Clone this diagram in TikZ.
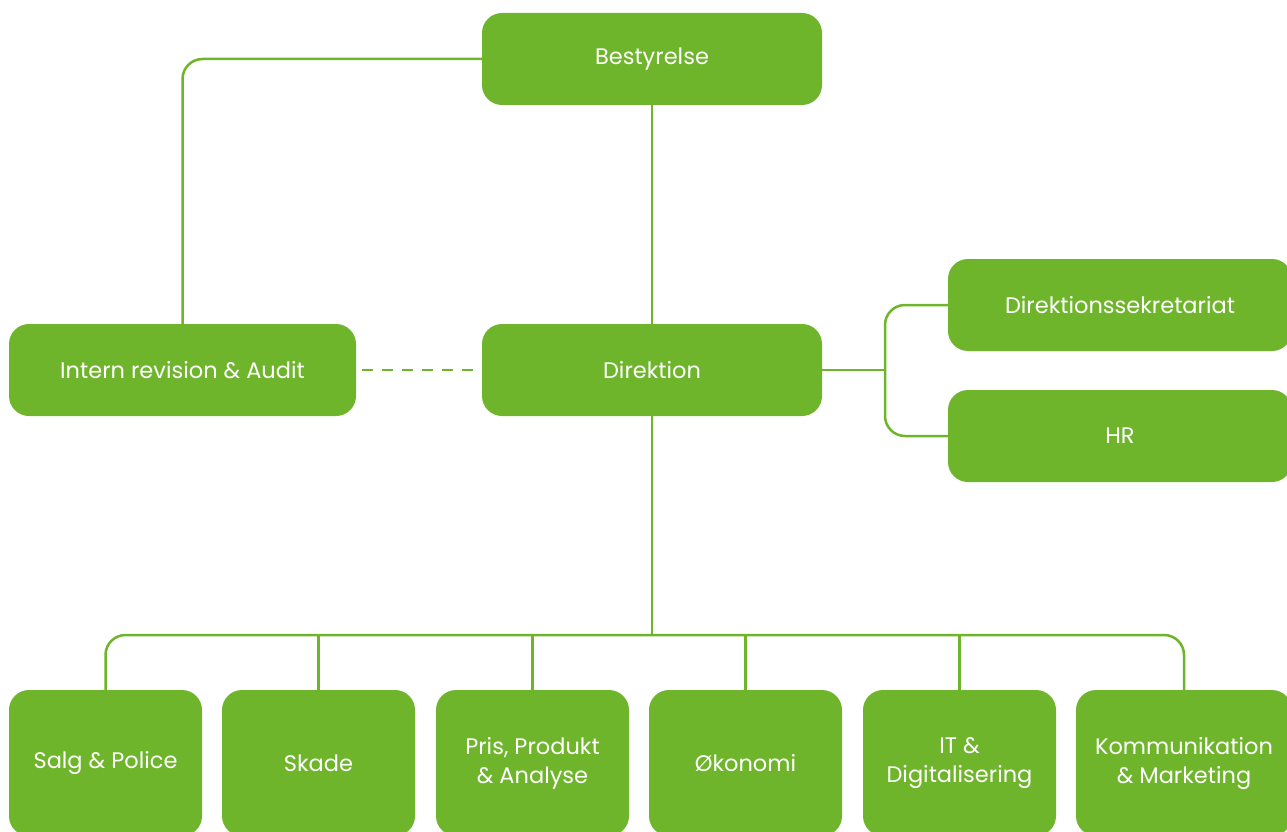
\documentclass[tikz,border=0pt]{standalone}
\usepackage{fontspec}
\setmainfont{Poppins}
\definecolor{grn}{RGB}{111,181,44}
\begin{document}
\begin{tikzpicture}[x=1pt,y=-1pt,
 box/.style={fill=grn, rounded corners=20pt, text=white, font=\fontsize{22.5}{29}\selectfont, align=center, inner sep=0pt},
 topbox/.style={box, minimum width=340pt, minimum height=92pt},
 botbox/.style={box, minimum width=193pt, minimum height=146pt},
 conn/.style={draw=grn, line width=2.5pt, rounded corners=20pt}]
\useasboundingbox (0,0) rectangle (1287,832);
\clip (0,0) rectangle (1287,832);
\node[topbox] (best) at (652,59) {Bestyrelse};
\node[topbox, minimum width=347pt] (intern) at (182.5,370) {Intern revision \& Audit};
\node[topbox] (dir) at (652,370) {Direktion};
\node[topbox, minimum width=344pt] (sek) at (1120,305) {Direktionssekretariat};
\node[topbox, minimum width=344pt] (hr) at (1120,436) {HR};
\node[botbox] (b1) at (105.5,763) {Salg \& Police};
\node[botbox] (b2) at (318.5,763) {Skade};
\node[botbox] (b3) at (532.5,763) {Pris, Produkt\\\& Analyse};
\node[botbox] (b4) at (745.5,763) {Økonomi};
\node[botbox] (b5) at (959.5,763) {IT \&\\Digitalisering};
\node[botbox, minimum width=216pt] (b6) at (1184,763) {Kommunikation\\\& Marketing};
\coordinate (split) at (885,370);
\coordinate (bus) at (652,635);
\draw[conn] (best.west) -| (intern.north);
\draw[conn] (best.south) -- (dir.north);
\draw[conn, rounded corners=0pt, dash pattern=on 11pt off 9pt, shorten <=6pt, shorten >=8pt] (intern.east) -- (dir.west);
\draw[conn] (dir.east) -- (split);
\draw[conn] (sek.west) -| (split) |- (hr.west);
\draw[conn] (dir.south) -- (bus);
\draw[conn] (b1.north) |- (bus) -| (b6.north);
\foreach \b in {b2,b3,b4,b5} \draw[conn] (\b.north) -- (\b.north |- bus);
\end{tikzpicture}
\end{document}
